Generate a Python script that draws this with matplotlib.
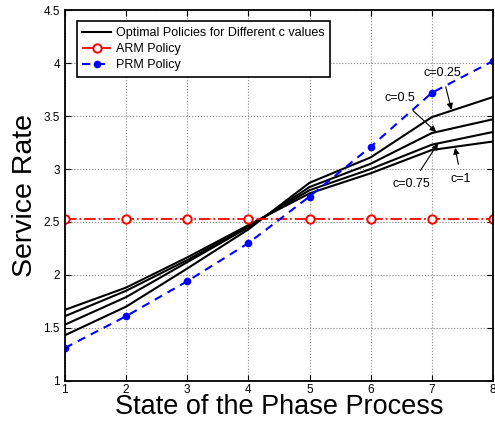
import matplotlib
matplotlib.use("Agg")
import matplotlib.pyplot as plt

plt.rcParams['font.family'] = ['Liberation Sans', 'DejaVu Sans']

states = [1, 2, 3, 4, 5, 6, 7, 8]
opt_c025 = [1.43, 1.70, 2.06, 2.43, 2.87, 3.11, 3.49, 3.68]
opt_c05 = [1.53, 1.79, 2.12, 2.45, 2.83, 3.05, 3.34, 3.47]
opt_c075 = [1.61, 1.85, 2.14, 2.46, 2.80, 3.00, 3.23, 3.35]
opt_c1 = [1.67, 1.88, 2.165, 2.47, 2.77, 2.96, 3.18, 3.26]
arm = [2.53, 2.53, 2.53, 2.53, 2.53, 2.53, 2.53, 2.53]
prm = [1.31, 1.61, 1.94, 2.30, 2.74, 3.21, 3.72, 4.02]

labels = ['Optimal Policies for Different c values', 'ARM Policy', 'PRM Policy']
annotations = [
    ('c=0.25', (7.32, 3.56), (7.17, 3.91)),
    ('c=0.5', (7.07, 3.35), (6.47, 3.67)),
    ('c=0.75', (7.10, 3.24), (6.67, 2.86)),
    ('c=1', (7.38, 3.20), (7.48, 2.91)),
]

fig = plt.figure(figsize=(4.95, 4.25), dpi=100)
ax = fig.add_axes([0.131, 0.104, 0.865, 0.872])

l1, = ax.plot(states, opt_c025, color='black', lw=1.5)
ax.plot(states, opt_c05, color='black', lw=1.5)
ax.plot(states, opt_c075, color='black', lw=1.5)
ax.plot(states, opt_c1, color='black', lw=1.5)
l2, = ax.plot(states, arm, color='red', ls='-.', lw=1.3, marker='o', ms=6,
              mfc='white', mec='red', mew=1.4)
l3, = ax.plot(states, prm, color='blue', ls='--', lw=1.5, marker='o', ms=4.5,
              mfc='blue', mec='blue', dashes=(4, 3))

for txt, xy, xytext in annotations:
    ax.annotate(txt, xy=xy, xytext=xytext, fontsize=9, ha='center', va='center',
                arrowprops=dict(arrowstyle='-|>', color='black', lw=0.8,
                                mutation_scale=9, shrinkA=4, shrinkB=0))

ax.set_xlim(1, 8)
ax.set_ylim(1, 4.5)
ax.set_xticks(states)
ax.set_yticks([1, 1.5, 2, 2.5, 3, 3.5, 4, 4.5])
ax.set_yticklabels(['1', '1.5', '2', '2.5', '3', '3.5', '4', '4.5'])
ax.tick_params(direction='in', labelsize=8.5, top=True, right=True, length=4, width=0.8)
ax.tick_params(axis='x', pad=2)
ax.grid(True, ls=':', color='#888888', lw=0.8)
for s in ax.spines.values():
    s.set_linewidth(1.3)

ax.set_xlabel('State of the Phase Process', fontsize=19.5, labelpad=-1)
ax.set_ylabel('Service Rate', fontsize=20.5, labelpad=4)

leg = ax.legend([l1, l2, l3], labels, loc='upper left', fontsize=9,
                bbox_to_anchor=(0.028, 0.970), frameon=True, fancybox=False,
                edgecolor='black', framealpha=1, borderpad=0.45, labelspacing=0.32,
                handlelength=2.3, handletextpad=0.35, borderaxespad=0)
leg.get_frame().set_linewidth(1.2)

fig.savefig('out.png', dpi=100)
